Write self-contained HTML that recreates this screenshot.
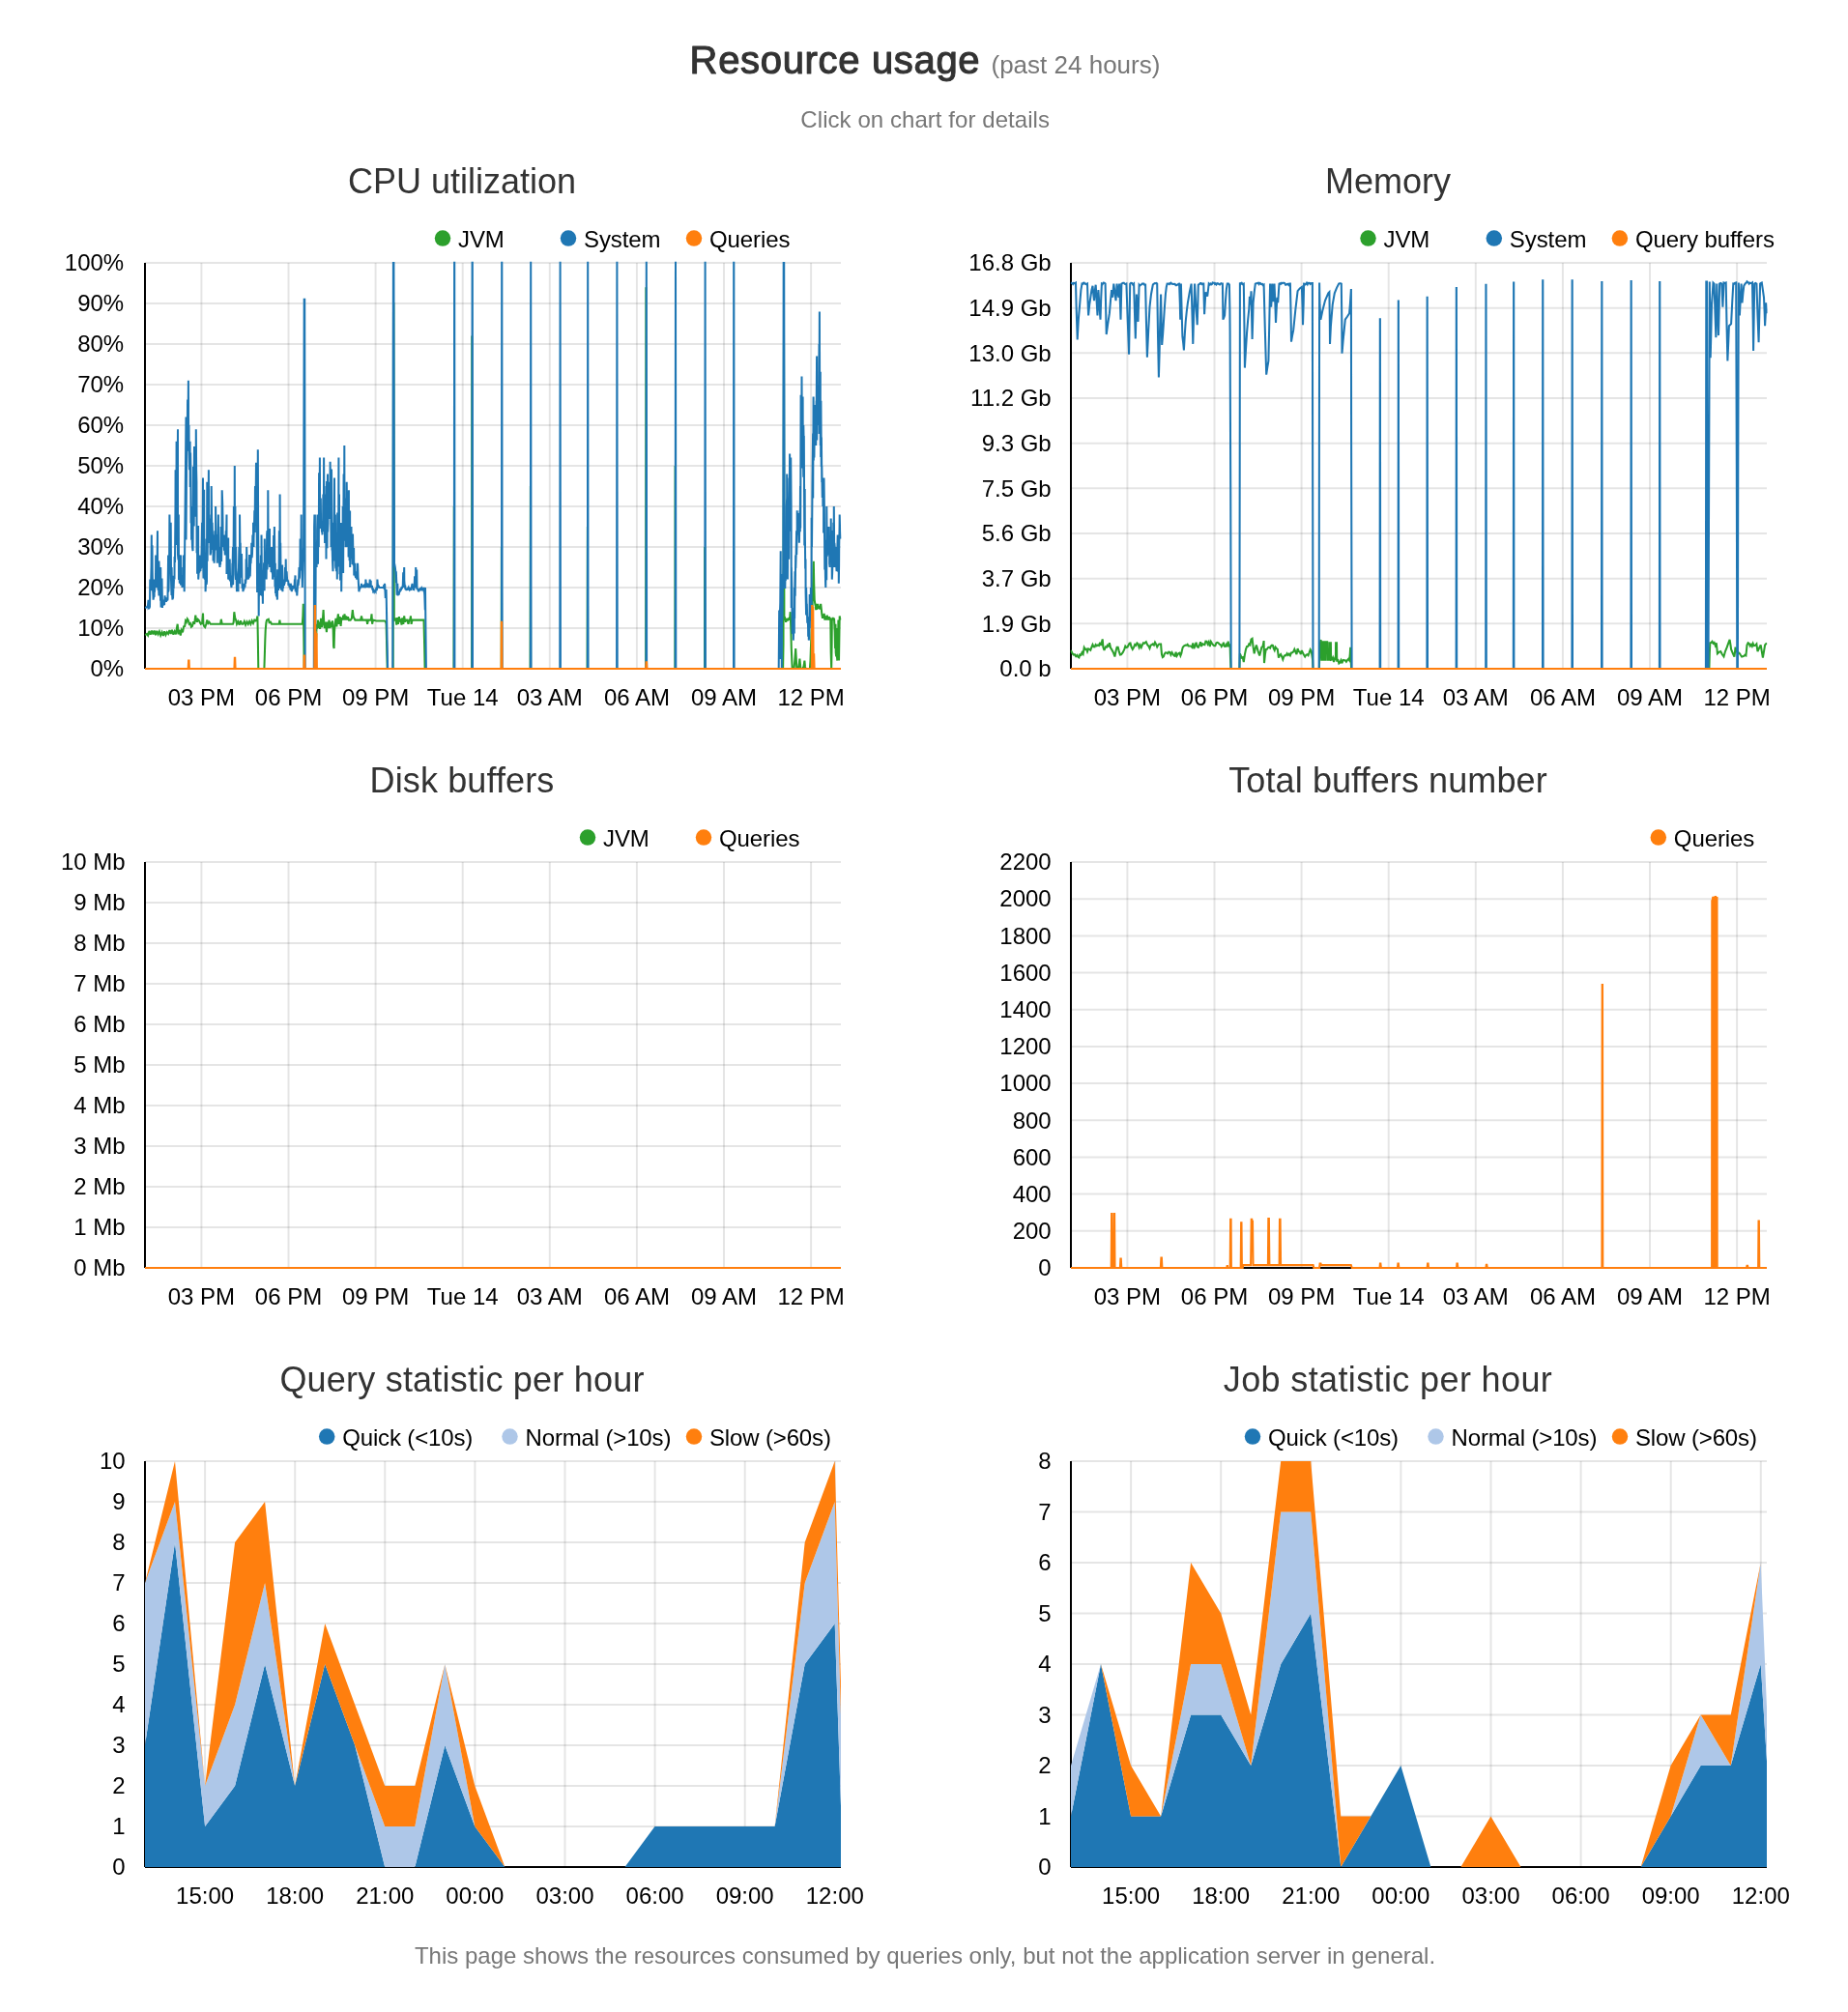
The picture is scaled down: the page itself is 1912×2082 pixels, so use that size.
<!DOCTYPE html>
<html lang="en">
<head>
<meta charset="utf-8">
<title>Resource usage</title>
<style>
html,body{margin:0;padding:0;background:#fff;}
body{width:1912px;height:2082px;overflow:hidden;font-family:"Liberation Sans",sans-serif;}
svg{display:block;will-change:transform;font-family:"Liberation Sans",sans-serif;}
text{font-family:"Liberation Sans",sans-serif;}
.h1{font-size:40px;font-weight:normal;fill:#333;stroke:#333;stroke-width:1.1px;stroke-linejoin:round;letter-spacing:0.67px;}
.sm{font-size:26px;fill:#777;}
.sub{font-size:24px;fill:#777;text-anchor:middle;}
.ft{font-size:24px;}
.ct{font-size:36px;fill:#333;text-anchor:middle;}
.yl{font-size:24px;fill:#000;text-anchor:end;}
.xl{font-size:24px;fill:#000;text-anchor:middle;}
.lg{font-size:24px;fill:#000;}
.grid{stroke:#000;stroke-opacity:0.1;stroke-width:2;fill:none;}
.zero{stroke:#000;stroke-opacity:1;stroke-width:2;fill:none;}
.axis{stroke:#000;stroke-width:2;fill:none;}
.ln path{fill:none;stroke-width:2.05;stroke-linejoin:miter;stroke-miterlimit:3;}
</style>
</head>
<body>
<svg width="1912" height="2082" viewBox="0 0 1912 2082">
<defs>
<clipPath id="k00"><rect x="149.5" y="270.8" width="721" height="421.5"/></clipPath>
<clipPath id="c00"><rect x="149.5" y="270.8" width="721" height="423.5"/></clipPath>
<clipPath id="k01"><rect x="1107.5" y="270.8" width="721" height="421.5"/></clipPath>
<clipPath id="c01"><rect x="1107.5" y="270.8" width="721" height="423.5"/></clipPath>
<clipPath id="k10"><rect x="149.5" y="890.8" width="721" height="421.5"/></clipPath>
<clipPath id="c10"><rect x="149.5" y="890.8" width="721" height="423.5"/></clipPath>
<clipPath id="k11"><rect x="1107.5" y="890.8" width="721" height="421.5"/></clipPath>
<clipPath id="c11"><rect x="1107.5" y="890.8" width="721" height="423.5"/></clipPath>
<clipPath id="c20"><rect x="150" y="1512" width="720" height="420"/></clipPath>
<clipPath id="c21"><rect x="1108" y="1512" width="720" height="420"/></clipPath>
</defs>
<text class="h1" x="713.6" y="76">Resource usage</text>
<text class="sm" x="1025.5" y="76">(past 24 hours)</text>
<text class="sub" x="957.2" y="132" letter-spacing="0.06">Click on chart for details</text>
<text class="sub ft" x="957" y="2031.8">This page shows the resources consumed by queries only, but not the application server in general.</text>
<text class="ct" x="478" y="200">CPU utilization</text>
<path class="grid" d="M150,650H870M150,608H870M150,566H870M150,524H870M150,482H870M150,440H870M150,398H870M150,356H870M150,314H870M150,272H870"/>
<path class="grid" d="M208.4,272V692M298.5,272V692M388.6,272V692M478.7,272V692M568.8,272V692M658.9,272V692M749,272V692M839.1,272V692"/>
<path class="zero" d="M150,692H870"/>
<path class="axis" d="M150,272V692"/>
<text class="yl" x="128.2" y="700.2">0%</text>
<text class="yl" x="128.2" y="658.2">10%</text>
<text class="yl" x="128.2" y="616.2">20%</text>
<text class="yl" x="128.2" y="574.2">30%</text>
<text class="yl" x="128.2" y="532.2">40%</text>
<text class="yl" x="128.2" y="490.2">50%</text>
<text class="yl" x="128.2" y="448.2">60%</text>
<text class="yl" x="128.2" y="406.2">70%</text>
<text class="yl" x="128.2" y="364.2">80%</text>
<text class="yl" x="128.2" y="322.2">90%</text>
<text class="yl" x="128.2" y="280.2">100%</text>
<text class="xl" x="208.4" y="729.8">03 PM</text>
<text class="xl" x="298.5" y="729.8">06 PM</text>
<text class="xl" x="388.6" y="729.8">09 PM</text>
<text class="xl" x="478.7" y="729.8">Tue 14</text>
<text class="xl" x="568.8" y="729.8">03 AM</text>
<text class="xl" x="658.9" y="729.8">06 AM</text>
<text class="xl" x="749" y="729.8">09 AM</text>
<text class="xl" x="839.1" y="729.8">12 PM</text>
<circle cx="458" cy="246.6" r="8.25" fill="#2ca02c"/>
<text class="lg" x="474" y="255.5" letter-spacing="-0.08">JVM</text>
<circle cx="588" cy="246.6" r="8.25" fill="#1f77b4"/>
<text class="lg" x="604" y="255.5" letter-spacing="-0.08">System</text>
<circle cx="718" cy="246.6" r="8.25" fill="#ff7f0e"/>
<text class="lg" x="734" y="255.5" letter-spacing="-0.08">Queries</text>
<g clip-path="url(#k00)" class="ln">
<path stroke="#2ca02c" d="M150.1,657.1L152,655.9L153.1,657.6L154.4,652.9L155.7,656.7L157.1,652.5L158.4,656.3L159.7,652.5L161,657.1L162.3,652.9L163.6,656.3L164.9,653.4L166.2,657.6L167.6,654.2L168.9,658L170.2,653.4L171.5,657.1L172.8,654.2L174.1,655.9L175.4,652.1L176.7,655.9L178,651.7L179.4,656.7L180.7,653.4L182,656.3L182.9,650L183.7,645.8L184.6,656.3L185.7,651.7L186.8,657.6L187.9,652.1L189,654.2L190.1,648.3L191.2,647.9L192,642.4L192.9,643.7L193.8,640.3L194.7,641.6L195.8,645.8L196.9,645L197.9,648.7L199,647.9L200.1,643.3L201.2,645.8L202.3,636.6L203,641.6L203.9,643.7L204.7,640.8L205.6,641.6L206.7,643.7L207.8,645.8L209.1,645L210,634.5L210.4,645.8L211.3,648.3L212.2,649.2L213.3,645.8L214.3,641.6L215.4,645L216.5,643.7L217.8,645.8L219.8,645.8L223.1,645.8L226.4,645.8L228.1,645.8L228.8,640.8L229.7,645.8L231.8,645.8L235.1,645.8L238.4,645.8L241,645.8L241.7,643.7L242.3,633.2L243.2,639.5L244.1,641.6L245,645.8L246.3,643.3L247.6,646.6L248.9,642.4L250.2,645.8L251.5,645.8L252.8,642.9L254.1,646.6L255.5,643.3L256.8,645.8L258.1,642.9L259.4,645.8L260.7,642.4L262,645L263.3,641.6L264.6,642.4L265.7,640.8L266.4,637.4L266.8,658.4L267.3,692L273.4,692L273.8,679.4L274.3,662.6L274.7,652.1L275.4,644.5L276,641.6L277.8,640.8L278.6,644.1L280,643.7L281,645.8L284.3,645.8L287.6,645.8L288.7,645.8L289.4,641.6L290,645.8L293.1,645.8L297.4,645.8L301.8,645.8L306.2,645.8L310.6,645.8L312.8,645.8L313.4,637.4L313.8,624.8L314.3,658.4L314.7,692L326.3,692L327,666.8L327.6,645.8L328.3,650.8L328.9,641.6L329.6,650L330.2,643.7L331.1,650.8L332,639.9L332.9,649.2L333.7,643.7L334.6,631.1L335.3,645.8L335.9,650L336.8,643.7L337.9,654.2L338.8,643.7L339.7,650L340.5,641.6L341.4,650L342.3,643.7L343.1,649.2L344,642.4L344.7,652.1L345.1,668.9L345.6,671L346,654.2L346.6,645.8L347.5,639.9L348.4,648.3L349.3,639.5L349.9,635.3L350.8,645.8L351.7,638.2L352.6,647.9L353.4,639.1L354.3,641.6L355.2,636.6L356.1,641.6L356.5,635.3L357.4,641.6L358.2,637.4L359.1,641.6L360,638.2L360.9,641.6L362.6,641.6L363.9,639.9L364.8,631.1L365.5,637.4L366.3,639.5L367.4,641.6L369.6,641.6L371.8,641.6L373.1,641.6L374,637.4L374.9,641.6L377.3,641.6L379.4,641.6L380.1,645.8L381,641.6L382.7,641.6L383.8,641.6L384.5,635.3L385.1,645.8L386,641.6L389.3,642.4L393.7,642.4L398,642.4L399.1,643.7L399.6,645.8L400.2,671L400.7,692L406.7,692L407,314L407.3,314L407.8,641.6L408.3,641.6L409.4,639.5L410.3,646.6L411.2,639.1L412,645.8L412.9,638.2L413.8,642.4L414.7,641.6L415.5,646.6L416.4,639.5L417.3,645.8L418.2,637.4L419,643.7L419.9,641.6L421.2,641.6L422.5,645.8L423.4,641.6L424.3,641.6L424.9,637.4L425.6,645.8L426.5,641.6L428.7,641.6L431.9,641.6L435.2,641.6L438.5,641.6L439.1,666.8L439.6,692L469.5,692L469.8,524L470,692L488.1,692L488.3,347.6L488.6,692L518.7,692L518.9,566L519.2,692L548.6,692L548.9,503L549.1,692L607.6,692L607.9,545L608.1,692L668.2,692L668.4,297.2L668.7,692L698.4,692L698.6,482L698.9,692L729,692L729.2,566L729.5,692L810.1,692L810.5,666.8L811,347.6L811.4,641.6L812.3,640.3L813.1,643.7L814,639.9L814.9,642.4L815.8,639.5L816.6,641.6L817.3,637.4L817.7,633.2L818.4,654.2L818.8,671L819.3,683.6L819.7,692L821.5,692L822.3,683.6L823.2,671L823.9,683.6L824.3,692L825.8,692L826.7,687.8L827.4,681.5L828,687.8L828.4,692L830.2,692L831.5,689.9L832.4,683.6L833,689.9L833.5,692L837.9,692L838.5,683.6L838.9,671L839.8,650L840.5,629L841.1,608L841.8,580.7L842.2,603.8L842.7,620.6L843.3,624.8L843.8,626.9L844.2,631.1L844.6,624.8L845.1,630.7L845.5,629L846.2,624.8L846.8,629.8L847.7,626.9L848.3,630.7L849.2,624.8L849.9,631.1L850.3,635.3L851,639.9L851.6,635.7L852.1,639.5L852.7,634.9L853.4,641.6L854.3,637.4L855.1,641.6L855.8,636.6L856.4,641.6L857.3,638.2L858,641.6L858.6,639.5L859.3,640.3L859.7,675.2L860.2,692L860.6,666.8L860.8,641.6L861.7,639.1L862.3,641.6L863,639.5L863.7,654.2L864.1,671L864.5,645.8L864.7,675.2L865.2,679.4L865.6,650L865.8,677.3L866.3,683.6L866.7,654.2L866.9,679.4L867.4,641.6L867.8,675.2L868,683.6L868.5,650L868.7,637.4L869.1,639.5L869.6,641.6"/>
<path stroke="#1f77b4" d="M150.1,629L152.5,627.9L153,626.3L153.5,620.8L153.6,629L154.1,628.5L154.5,628.9L155,627.8L155.3,599.6L155.6,608L156,610.6L156.6,585.6L156.8,553.4L157,611.3L157.5,564.3L157.7,591.2L158,607.2L158.5,617.9L158.6,620.6L159.1,616.9L159.6,617.7L159.7,599.6L160,612.8L160.5,599.8L161,601.5L161.2,574.4L161.5,575.8L161.9,608L162.1,594.3L162.5,588.7L163,549.2L163.1,603.2L163.6,610.6L163.8,591.2L164.1,607.4L164.5,616.4L164.5,580.6L165,606.2L165.4,603.8L165.6,610.2L166.1,621.6L166.2,587L166.6,628.4L167.1,621.3L167.1,616.4L167.5,598.6L168,629L168.1,623.2L168.6,623.3L169.1,626L169.3,620.6L169.6,625.4L170.1,625.2L170.6,616.4L170.7,619.7L171,621.2L171.6,620.4L171.9,622.7L172.1,622.2L172.5,620.5L172.8,620.6L173.1,621.5L173.5,620.4L174.1,574.4L174.1,612.6L174.5,610.7L175.1,585.6L175.4,532.4L175.6,546.2L176,580.7L176.6,593L176.7,540.8L177,598.9L177.5,615.9L177.6,587L178.1,614.9L178.5,620.6L178.5,595.7L179,619.5L179.4,608L179.6,609.3L180.1,596.6L180.5,599.6L180.6,576L181,582L181.5,524L181.6,486.3L182.1,563.9L182.5,538.7L182.6,456.8L183.1,521.6L183.3,482L183.5,546.8L184,444.2L184,573.6L184.5,579.3L184.8,532.4L185,600.1L185.5,597.7L185.9,603.8L186.1,599.5L186.5,578.7L187,574.4L187,605.6L187.5,602.4L187.7,595.4L188.2,600.8L188.5,608L188.6,599.5L189,607L189.2,587L189.5,603.5L189.9,574.4L190,591.3L190.6,604.6L190.7,612.2L191.6,524L192.5,431.6L192.5,558.5L193,487.5L193.4,448.4L193.7,466.8L194,423.2L194.1,413.6L194.5,462.4L194.9,393.8L195.1,464L195.5,440L195.6,463.9L196,486.3L196.2,473.6L196.6,456.8L196.7,504L197.1,468.4L197.3,482L197.6,541.2L197.9,524L198.1,558.7L198.5,557.7L198.6,553.4L199,565.9L199.5,570.2L199.6,560.4L200,482.7L200.4,524L200.7,544.6L201,461.9L201.2,469.4L201.5,534.8L201.9,482L202,508.1L202.6,529.9L202.8,444.2L203.1,485.2L203.4,498.8L203.6,572.2L204.1,545L204.1,593.8L204.6,566.8L204.7,582.8L205.1,543.9L205.2,599.6L205.6,593.2L206,582.8L206.1,592.4L206.5,590.8L206.7,574.4L207.1,587.7L207.4,591.2L207.5,581.7L208,588.4L208.2,587L208.6,570L209.1,540.8L209.1,587.4L209.6,566.5L210,494.6L210.1,576.3L210.5,598.5L210.6,545L211.1,506.7L211.3,582.8L211.6,596.9L211.9,599.6L212.1,595.4L212.5,592.2L212.6,612.2L213,602.6L213.5,557.6L213.6,605L214,601.5L214.3,498.8L214.6,580.7L215,519.8L215.1,543.4L215.6,542L215.9,486.2L216.1,555.6L216.6,562L216.8,536.6L217,548L217.5,563.1L217.6,574.4L218.1,571.3L218.3,532.4L218.6,568.9L218.7,503L219.1,539.2L219.6,560.2L219.6,540.8L220.1,558.6L220.5,566L220.6,580.6L221,578.8L221.1,553.4L221.6,571.4L221.6,582.8L222.1,562.2L222.4,549.2L222.5,569.4L223.1,558.8L223.1,524L223.6,568.3L224,557.6L224.1,562.8L224.6,568.7L224.8,582.8L225.1,554.8L225.5,553.4L225.5,565.7L225.9,532.4L226.1,567.2L226.5,573.8L226.8,566L227,582.5L227.5,587L227.5,582.6L228.1,582.9L228.6,545L228.6,569.3L229.1,581L229.5,555.5L229.7,507.2L230.2,521.3L230.5,540.8L230.6,560.9L231.1,553.6L231.4,566L231.6,558.9L232,569.8L232.3,553.4L232.5,567.3L232.9,574.4L233,569L233.5,564.6L233.8,549.2L234,563.3L234.5,532.4L234.5,594L235.1,569.5L235.3,570.2L235.7,593.4L236.2,556.5L236.2,599.6L236.5,593.3L237.1,582.8L237.1,594.2L237.5,600.2L237.7,578.6L238.1,600.6L238.5,600.8L238.6,595.4L239.1,605.3L239.5,608L239.6,600.3L240,605.4L240.4,582.8L240.5,590.8L241,566L241.1,605.2L241.6,576.1L241.9,524L242.1,577L242.6,563.3L242.8,482L243,568.6L243.4,524L243.6,594.5L244,599.8L244.1,566L244.5,596.2L244.5,591.2L245,612.2L245,609.4L245.5,610.2L245.8,599.6L246,604.1L246.5,612.2L246.5,596.2L247,587.3L247.4,566L247.5,602.3L248,602.6L248,532.4L248.6,581.7L248.7,561.8L249.1,597.7L249.3,578.6L249.5,589.8L250,573.1L250.4,599.6L250.6,606.9L251.1,606.5L251.5,612.2L251.7,608.6L252.1,610.2L252.6,608.3L252.6,603.8L253,605.5L253.5,607.6L253.7,599.6L254.1,604L254.5,600L254.6,578.6L255.1,599.8L255.2,566L255.6,592.2L256,595.6L256.1,587L256.6,596.4L257,599.6L257,597.7L257.7,597.3L258.1,574L258.1,582.8L258.7,596.5L259,587.1L259.2,578.6L259.5,583.2L260.1,572.8L260.3,561.8L260.6,577.2L261,572.7L261.4,553.4L261.5,564.5L262,561.5L262,540.8L262.5,566L262.5,557.3L263.1,540.1L263.3,528.2L263.6,551.1L264,503L264.1,530.7L264.5,536.1L264.6,524L265,478.8L265.3,532.4L265.6,519.9L266.1,612.9L266.2,494.6L266.6,592.9L266.8,465.2L267.1,540.9L267.3,566L267.6,620.9L267.7,637.4L268.1,582.7L268.4,616.4L268.6,604.3L269,608L269.1,598.8L269.6,613.8L269.9,574.4L270,609.6L270.5,615.8L270.5,553.4L271.1,616.8L271.2,599.6L271.6,609L271.9,624.8L272.1,590.5L272.5,611.4L273,587L273.1,582.2L273.6,611.2L273.8,557.6L274,583.5L274.5,592.8L274.7,582.8L275,598.7L275.5,584.8L275.6,599.6L276.2,552.8L276.5,549.2L276.5,589.4L277.1,578L277.3,507.2L277.6,573.5L278,556.1L278.2,553.4L278.5,583.8L279,547.1L279.1,587L279.5,580.6L280,586.2L280.2,570.2L280.6,592.1L281,582.1L281,566L281.6,593.3L281.7,587L282,586.5L282.1,599.6L282.5,587.3L283,570.2L283.1,554.1L283.6,597.1L283.9,545L284.2,569.5L284.5,607.2L284.8,582.8L285.1,614.1L285.4,608L285.6,615L286.1,617.2L286.3,616.4L286.5,612.7L286.9,620.6L287.1,589.3L287.6,601.3L287.6,608L288.1,610.9L288.3,599.6L288.5,605.6L288.9,549.2L289.1,608.9L289.5,592.1L289.6,511.4L290,603.3L290.2,561.8L290.6,602.2L290.9,599.6L291.1,610.8L291.5,597.8L291.8,608L292.1,584.6L292.4,612.2L292.5,608.4L293,608L293.3,603.8L293.6,604.8L294,606L294.2,599.6L294.5,604.3L295,587L295.1,602.2L295.6,598.7L295.7,578.6L296,598.6L296.5,600.2L296.6,591.2L297.2,601.6L297.4,599.6L297.6,601.8L298.1,600.5L298.5,605.9L298.6,605L299,603.7L299.5,607L299.6,608L300.1,606.7L300.5,610.4L300.7,603.8L301,605.3L301.5,610.1L301.8,612.2L302.1,610.1L302.5,609.7L302.9,605.9L303,607L303.5,609.1L304,607.4L304,608L304.6,606.9L304.9,599.6L305,605.5L305.5,595.4L305.7,610L306,609.8L306.4,608L306.5,613.3L307,611.5L307.3,616.4L307.5,612.9L308.1,603.5L308.4,599.6L308.5,606.2L309.1,601.1L309.5,587L309.5,599L310,597.1L310.5,578L310.6,557.6L311.1,576.1L311.5,583L311.7,532.4L312,590.4L312.3,574.4L312.5,590.1L312.8,608L313.4,582.8L314.1,566L314.7,309.8L315.2,309.8L315.7,692L324.8,692L325.1,545.4L325.4,532.4L325.5,657.2L325.9,532.4L326.1,691.7L326.6,603.6L326.7,561.8L327,564.9L327.6,587L327.6,580.1L328.1,557.6L328.1,548.9L328.5,532.4L328.5,572.7L329,583.7L329.2,549.2L329.6,549.3L329.8,566L330.1,489.2L330.5,515.6L330.6,546.9L330.9,473.6L331.1,540.4L331.6,546.2L331.8,515.6L332.1,546.7L332.4,545L332.5,540.4L333,550.6L333.1,540.8L333.5,553.4L333.6,539.4L334,550.3L334.4,511.4L334.6,541.6L335,537.6L335.1,473.6L335.5,549.6L335.7,503L336.1,562L336.2,524L336.6,549.6L336.8,553.4L337.1,511.5L337.5,578.6L337.5,568.8L338.1,498.1L338.3,532.4L338.5,567.3L339,490.4L339.1,550.4L339.5,541.4L339.7,511.4L340.1,524L340.1,502.2L340.5,520.7L341,498.8L341,521.5L341.5,536.9L341.6,477.8L342.1,507.7L342.3,515.6L342.5,565.9L342.9,545L343,485.4L343.5,568.7L343.8,570.2L344.1,581.5L344.5,591.2L344.6,579.1L345,560.7L345.3,540.8L345.5,580.6L346,494.6L346.1,543.3L346.5,573.3L346.9,532.4L347.2,585.8L347.5,588.3L347.7,566L348,591.2L348.4,587L348.6,571.3L348.8,599.6L349.2,530.6L349.5,566.8L349.7,532.4L350.1,586.5L350.4,473.6L350.5,564.1L351,511.4L351,536L351.5,594.2L351.7,545L352,600.6L352.5,599.1L352.6,582.8L353,541L353.2,612.2L353.5,582.9L354.1,566L354.1,587.9L354.5,577.8L354.7,524L355.1,593.1L355.6,490.4L355.6,558.2L356,559.4L356.3,461L356.5,543.2L356.9,515.6L357.1,545.4L357.5,546.3L357.6,566L358,564.1L358.2,528.2L358.5,551L358.7,498.8L359.1,530.1L359.3,536.6L359.5,548.1L359.8,566L360.1,510L360.4,532.4L360.6,576.4L360.9,507.2L361,572.8L361.5,549.2L361.6,580.3L362.1,528.6L362.2,587L362.5,566.1L362.8,561.8L363.1,577.9L363.5,545L363.6,572.4L364,570.2L364.1,561.8L364.6,584L364.8,553.4L365,552.6L365.6,585.2L365.7,578.6L366.1,567.1L366.3,595.4L366.5,587.7L367,587L367,591.4L367.4,582.8L367.5,595.7L368.1,597.7L368.3,591.2L368.5,597.6L369.1,598.5L369.2,599.6L369.7,597.3L370,582.8L370.2,586.2L370.5,597.5L370.7,599.6L371.4,612.2L372.2,608L372.7,607.7L372.9,608L373.2,607.4L373.7,607.2L374,603.8L374.3,607.2L374.8,605.5L375.1,608L375.2,607.2L375.7,606.3L376.2,605.9L376.2,607.7L376.7,605.3L377.2,607.5L377.3,608L377.8,606.8L378.2,606.9L378.4,599.6L378.8,604.4L379.2,606.1L379.4,608L379.8,603.3L380.2,606.3L380.5,603.8L380.8,606L381.3,606.4L381.6,608L381.7,606.9L382.2,607L382.7,599.6L382.7,599.8L383.2,605.5L383.7,600.7L383.8,608L384.3,607.1L384.7,606.4L384.9,605.9L385.3,609.9L385.7,610.3L386,610.1L386.2,612L386.8,611.4L387.1,612.2L387.2,611.9L387.7,612.2L388.2,611.7L388.6,612.2L388.7,610.2L389.2,610L389.5,608L389.7,611L390.2,608.5L390.4,599.6L390.7,603.6L391.3,607.7L391.5,608L391.7,605.7L392.3,607.9L393.2,608L395,608L396.2,607.7L396.7,607.7L396.9,608L397.3,605.1L397.7,607.7L398,603.8L398.2,605.7L398.8,618.9L399.6,610.1L401.1,692L406.3,692L406.9,272L407.4,272L408,582.8L408.8,587L409.3,591.6L409.8,603L409.8,591.2L410.2,601.2L410.7,615.6L410.9,608L411.3,603.8L411.6,616.4L411.8,615.5L412.2,614.3L412.5,612.2L412.7,615.6L413.3,611.9L413.3,612.2L413.7,612.1L414.3,609.3L414.4,610.1L414.7,611.3L415.3,608.1L415.5,608L415.6,609.3L416.2,608L416.8,605.5L417.2,592.2L417.3,608L417.7,604.2L418.2,587L418.3,600.8L418.7,605.7L419,608L419.2,605.5L419.5,610.1L419.7,608.9L420.2,610L420.8,609.9L421,610.1L421.2,610L421.6,609.7L422.2,608.5L422.5,608L422.7,609.3L423.2,608.9L423.7,609.9L424.3,609.3L424.3,610.1L424.7,609.7L425.3,609.9L425.4,608L425.7,608.7L426.3,605.5L426.5,603.8L426.7,608.5L427.2,607.5L427.3,608L427.7,609.9L428.2,610.1L428.2,609.7L428.6,608.3L429.1,596.2L429.3,605.9L429.8,604.5L430.1,598.3L430.2,587L430.7,607.6L431.1,608L431.2,589.4L431.5,610.1L431.8,609.3L432.3,609.6L432.8,611.7L433,612.2L433.3,610.9L433.7,611.1L434.1,610.1L434.3,608.8L434.7,610.8L435.2,608.5L435.2,608L435.7,609.4L436.2,608.4L436.8,609.7L437,610.1L437.2,609.5L437.7,609.6L438.2,609.7L438.5,608L438.8,609L439.3,615.8L439.8,631.3L440,608L440.2,629.5L440.5,658.4L440.9,692L469.8,692L470.1,268L470.2,268L470.4,692L488.4,692L488.6,268L488.8,268L489,692L519,692L519.2,268L519.3,268L519.6,692L548.9,692L549.2,268L549.2,268L549.5,692L579.3,692L579.6,268L579.6,268L579.9,692L607.9,692L608.2,268L608.2,268L608.5,692L638.1,692L638.4,268L638.4,268L638.7,692L668.5,692L668.8,268L668.8,268L669.1,692L698.7,692L699,268L699,268L699.3,692L729.3,692L729.6,268L729.6,268L729.9,692L759,692L759.2,268L759.3,268L759.6,692L805.7,692L806.2,631.5L806.6,641.6L806.7,643.7L807.3,623.6L807.7,570.2L807.8,682L808.2,629.3L808.3,641.6L808.7,662.7L808.8,692L809.2,594.1L809.4,641.6L810.3,587L810.7,272L811.2,272L811.7,608L812.3,608L812.7,582.8L812.8,601L813.1,566L813.1,574L813.6,566L813.8,524L814.2,514.9L814.2,490.4L814.7,549.2L814.8,565.5L814.9,599.6L815.2,540.5L815.5,557.6L815.6,572.5L816,524L816.1,578.7L816.6,494.6L816.7,534.5L817.1,469.4L817.3,499.8L817.7,549.7L817.7,498.8L818.1,536.6L818.2,473.6L818.6,524L818.7,629L818.8,587L819.3,608L819.7,655.5L819.7,629L820.2,656.2L820.4,645.8L820.6,640.8L820.8,662.6L821.2,649.9L821.5,633.2L821.8,655.6L821.9,608L822.1,639.9L822.5,591.2L822.7,616.7L823.2,574.4L823.3,587.9L823.7,572.3L824.1,549.2L824.2,574.1L824.7,546.8L824.7,528.2L825.2,547.6L825.4,545L825.8,531.1L825.8,553.4L826.3,550.9L826.5,540.8L826.7,551.4L826.9,561.8L827.2,545.3L827.6,528.2L827.8,550.3L828,503L828.2,546.6L828.6,408.7L828.9,440L829.2,484.4L829.5,389.6L829.7,433.1L830.1,428.4L830.2,423.2L830.6,410.6L830.7,449.3L831.3,493.7L831.3,440L831.7,461L831.8,451L832.3,564.5L832.4,507.2L832.7,505.9L832.8,545L833.2,588.5L833.5,578.6L833.6,613.2L834.1,636.4L834.1,608L834.8,635L834.8,624.8L835.2,641.6L835.3,644.7L835.7,638.2L836.1,650L836.2,658.7L836.7,642.7L836.8,662.6L837.2,659L837.4,645.8L837.7,615.1L837.9,629L838.1,642.6L838.5,616.4L838.7,631.7L838.9,608L839.3,613.4L839.6,650L839.7,535.7L840,566L840.5,503L841.1,448.4L841.2,515.5L841.6,410.6L841.8,476.6L842,448.4L842.2,454L842.4,473.6L842.8,439.6L842.9,440L843.3,455.8L843.3,419L843.8,448.4L843.8,428.8L844.2,461L844.3,451.3L844.6,414.8L844.7,426.7L845.1,368.6L845.2,455.6L845.5,414.8L845.8,425.5L845.9,440L846.1,424.5L846.4,414.8L846.8,423.3L846.8,398L847.1,417.3L847.5,356L847.6,449.1L847.9,322.4L848.2,430.3L848.3,398L848.8,384.7L848.8,461L849.2,431.6L849.2,473L849.4,414.8L849.8,482.9L849.9,452.6L850.3,499.1L850.3,482L850.8,515.1L851,507.2L851.3,506.8L851.4,524L851.6,515.7L852.1,507.2L852.1,551.5L852.5,494.6L852.8,520.4L852.9,532.4L853.3,589.5L853.4,566L853.7,558.8L853.8,587L854.1,604.1L854.3,608L854.6,559.8L854.9,561.8L855.2,600.2L855.3,524L855.7,575.9L856,553.4L856.3,565.3L856.4,574.4L856.7,561.4L857.1,557.6L857.2,566.3L857.5,545L857.7,558.5L858.2,570.2L858.2,583.1L858.6,587L858.8,570.1L859.2,579.4L859.3,557.6L859.7,571.3L859.7,536.6L860.1,581.4L860.4,574.4L860.6,551.7L860.8,599.6L861.1,593.5L861.5,578.6L861.8,549.1L861.9,566L862.2,586.9L862.3,540.8L862.8,559.9L862.8,524L863.2,575.1L863.4,561.8L863.8,567.1L863.9,587L864.3,580.9L864.3,574.4L864.7,585.3L864.7,566L865.2,582.8L865.2,584.7L865.6,591.2L865.7,587.3L866.3,587.8L866.3,570.2L866.7,553.4L866.8,572.6L867.2,591.8L867.4,582.8L867.7,582.2L867.8,603.8L868.1,584.2L868.2,566L868.6,543.9L868.7,532.4L869.1,549.2L869.6,557.6"/>
</g>
<g clip-path="url(#c00)" class="ln">
<path stroke="#ff7f0e" d="M150,692L194.7,692L195.1,683.6L195.6,683.6L195.9,692L242.4,692L242.8,680.7L243.2,680.7L243.6,692L314.3,692L314.7,678.6L315.2,678.6L315.5,692L325.4,692L325.7,626.9L326.1,626.9L326.4,692L326.1,692L326.4,654.2L326.7,654.2L326.9,692L326.9,692L327.2,656.3L327.6,656.3L327.9,692L518.6,692L518.8,643.7L519.2,643.7L519.5,692L668.2,692L668.6,685.3L669.1,685.3L669.4,692L839.8,692L840.1,626.9L840.4,626.9L840.7,692L840.7,692L841,629L841.3,629L841.6,692L841.4,692L841.8,677.3L842.2,677.3L842.6,692L870,692"/>
<path stroke="#ff7f0e" stroke-width="2.4" d="M150,692H870"/>
</g>
<text class="ct" x="1436" y="200">Memory</text>
<path class="grid" d="M1108,645.3H1828M1108,598.7H1828M1108,552H1828M1108,505.3H1828M1108,458.7H1828M1108,412H1828M1108,365.3H1828M1108,318.7H1828M1108,272H1828"/>
<path class="grid" d="M1166.4,272V692M1256.5,272V692M1346.6,272V692M1436.7,272V692M1526.8,272V692M1616.9,272V692M1707,272V692M1797.1,272V692"/>
<path class="zero" d="M1108,692H1828"/>
<path class="axis" d="M1108,272V692"/>
<text class="yl" x="1087.7" y="700.2">0.0 b</text>
<text class="yl" x="1087.7" y="653.5">1.9 Gb</text>
<text class="yl" x="1087.7" y="606.9">3.7 Gb</text>
<text class="yl" x="1087.7" y="560.2">5.6 Gb</text>
<text class="yl" x="1087.7" y="513.5">7.5 Gb</text>
<text class="yl" x="1087.7" y="466.9">9.3 Gb</text>
<text class="yl" x="1087.7" y="420.2">11.2 Gb</text>
<text class="yl" x="1087.7" y="373.5">13.0 Gb</text>
<text class="yl" x="1087.7" y="326.9">14.9 Gb</text>
<text class="yl" x="1087.7" y="280.2">16.8 Gb</text>
<text class="xl" x="1166.4" y="729.8">03 PM</text>
<text class="xl" x="1256.5" y="729.8">06 PM</text>
<text class="xl" x="1346.6" y="729.8">09 PM</text>
<text class="xl" x="1436.7" y="729.8">Tue 14</text>
<text class="xl" x="1526.8" y="729.8">03 AM</text>
<text class="xl" x="1616.9" y="729.8">06 AM</text>
<text class="xl" x="1707" y="729.8">09 AM</text>
<text class="xl" x="1797.1" y="729.8">12 PM</text>
<circle cx="1415.5" cy="246.6" r="8.25" fill="#2ca02c"/>
<text class="lg" x="1431.5" y="255.5" letter-spacing="-0.08">JVM</text>
<circle cx="1545.8" cy="246.6" r="8.25" fill="#1f77b4"/>
<text class="lg" x="1561.8" y="255.5" letter-spacing="-0.08">System</text>
<circle cx="1675.9" cy="246.6" r="8.25" fill="#ff7f0e"/>
<text class="lg" x="1691.9" y="255.5" letter-spacing="-0.08">Query buffers</text>
<g clip-path="url(#k01)" class="ln">
<path stroke="#2ca02c" d="M1107.9,673L1109.7,676.3L1110.8,677.6L1111.9,677.3L1113.2,679.2L1114.5,678L1115.4,679.7L1116.4,680.4L1117.3,677.3L1118.4,677.8L1119.5,675.2L1120.6,676.8L1121.7,670L1122.8,671.9L1123.9,671.5L1125,674.4L1126.1,671.4L1127.2,671.8L1128.3,672.8L1129.4,669.7L1130.5,667.1L1131.5,669.2L1132.6,669.3L1133.7,667.1L1134.8,668.4L1135.9,667.5L1137,668.1L1138.1,664.7L1139.2,667.9L1140.3,663.1L1140.7,661.4L1141.4,669.7L1142.5,673L1143.8,669.5L1145.1,669.7L1146.1,666.8L1147,669.4L1147.9,665.3L1149,670.3L1150.1,671.9L1151.9,675.2L1153.4,679.5L1154.7,673L1155.6,669.7L1156.7,669.7L1157.8,674.1L1158.9,677.6L1160,677.3L1161.7,675.2L1163.3,671.9L1164.3,668.7L1165.4,670.1L1166.5,669.6L1167.6,667.5L1168.6,665.7L1169.5,665.5L1170.5,669.3L1171.8,671.9L1173.1,669.7L1174.2,667L1175.3,667.9L1176.4,665.4L1177.5,666.4L1178.6,670L1179.7,667.5L1180.8,669.9L1181.8,667.5L1182.9,665.3L1184,665.8L1185.8,664.2L1187.1,667.1L1188.4,668.6L1189.5,671L1190.6,667.5L1191.7,667.2L1192.8,666.4L1193.9,667.6L1195,664.7L1196.1,666.6L1197.2,669.4L1198.2,667.7L1199.3,666.4L1201.1,666.4L1201.5,671.9L1202,677.3L1202.9,680.1L1203.9,679.4L1204.8,676.7L1205.9,675.3L1207,675.5L1208.1,676.3L1209.2,674.6L1210.3,674.9L1211.4,677.6L1212.5,675.1L1213.6,676.9L1214.6,678.4L1215.6,678.8L1216.6,674.7L1217.6,678.8L1218.6,677.3L1219.5,676L1220.4,675.6L1221.4,678.6L1222.3,676.3L1223.2,671.9L1223.8,669.7L1225.1,668.4L1226.7,667.5L1227.6,667.7L1228.6,666.9L1229.5,668.4L1230.8,668.4L1232.1,668.6L1233.2,669.7L1234.3,665.4L1235.4,671.2L1236.5,667.9L1237.6,664.8L1238.7,669.3L1239.8,669.8L1240.9,667.5L1242,664.3L1243.1,669L1244.2,666.2L1245.3,666.9L1246.4,667.2L1247.4,663.5L1248.5,663.6L1249.6,666.4L1250.7,664.2L1251.8,669L1252.9,664L1254,665.8L1255.1,667.3L1256.2,668.3L1257.3,668.3L1258.4,665.3L1259.5,664.8L1260.6,665.3L1261.7,666.6L1262.8,667.1L1263.8,669L1264.9,667.5L1265.9,664.8L1266.9,668.8L1267.9,668.9L1268.9,666.9L1269.8,669L1270.7,663.7L1271.7,669.4L1272.6,666.4L1273,680.6L1273.5,692L1282.4,692L1282.9,676.3L1284.6,680.6L1285.7,680.2L1286.8,685L1287.9,677.3L1289,671.9L1290.1,669L1291.2,668.9L1292.3,666.4L1293.4,667.3L1294.5,661.7L1295.6,660.9L1296.6,669.7L1297.7,676.3L1298.8,670.8L1299.9,667.5L1301.7,674.1L1303.2,678.4L1305.4,669.7L1306.5,669.1L1307.6,663.1L1307.8,676.3L1308,686.1L1308.9,677.3L1309.8,671.9L1310.9,671.8L1312,670L1313,669.7L1314.1,670.6L1315.1,668.4L1316,667.6L1316.9,667.9L1317.8,671.2L1318.7,673L1319.6,669.7L1320.7,671L1321.8,671.9L1322.5,677.3L1322.9,680.6L1324,678.1L1325.1,677L1326.2,679.5L1327.3,682.4L1328.4,679.2L1329.4,678.1L1330.5,678.4L1331.6,676.2L1332.7,677.9L1333.8,676.7L1334.9,678.3L1336,675.4L1337.1,675.2L1338.2,674.4L1339.3,671.9L1340.4,674.5L1341.5,677L1342.6,671.2L1343.7,674.1L1344.8,674.5L1345.8,677.1L1346.9,673L1348,675.8L1349.1,677.7L1350.2,679.5L1351.3,677.8L1352.4,677.3L1353.5,678.2L1354.6,675.4L1355.7,672.2L1356.8,674.1L1358.1,682.8L1358.5,692L1364.9,692L1365.3,676.3L1366,665.3L1366.6,662L1367.1,676.3L1367.3,682.8L1368.2,682.8L1368.4,664.2L1369.9,664.2L1370.1,682.8L1371.2,682.8L1371.4,664.2L1373.2,664.2L1373.4,682.8L1375.2,682.8L1375.4,665.3L1376.9,665.3L1377.1,682.8L1378.1,682.4L1379,680.6L1380,685L1381,681.5L1381.9,682.8L1382.1,665.3L1383,665.3L1383.2,683.3L1384.3,683L1385.3,686.4L1386.4,685.5L1387.4,683.3L1388.5,686.3L1389.6,683L1390.7,683.2L1391.8,683.3L1392.9,684.7L1394,683.1L1395.1,681.9L1396.1,683.3L1396.8,676.3L1397.2,669.7L1397.7,682.8L1398.1,692L1764.9,692L1768.4,692L1768.8,676.3L1769.3,665.3L1770.4,665L1771.5,663.8L1772.5,665.8L1773.6,665L1774.7,668L1775.8,665.3L1776.5,671.9L1776.9,676.3L1778.4,674.9L1780.2,674.1L1781.9,677.3L1783.5,679.5L1785,674.1L1786.8,669.7L1788.3,665.3L1789.6,662L1790.5,667.5L1791.1,671.9L1792.9,676.3L1794.4,679.5L1795.1,674.1L1795.5,669.7L1796.6,674.1L1797.7,673.6L1798.8,675.6L1799.9,676.3L1801,678L1802.1,679.5L1803.2,679.2L1804.3,678.9L1805.3,677.8L1806.4,678.4L1807.1,671.9L1807.5,667.5L1808.6,665.2L1809.7,666L1810.8,668.5L1811.9,666.9L1812.8,668.7L1813.7,666L1814.6,668.1L1815.6,668L1816.5,667.5L1817.4,666.4L1818,670.8L1818.5,674.1L1820,670.8L1821.7,667.5L1822.8,674.1L1823.9,680.6L1825,674.1L1826.1,667.5L1827,666.4L1827.9,665.3"/>
<path stroke="#1f77b4" d="M1107.9,292.5L1108.6,292.9L1109.4,293.2L1110.1,294L1110.8,292.9L1111.5,293.1L1112.2,293L1113,292.5L1113.6,317.6L1114.7,351.5L1115.8,330.7L1117.3,313.3L1118.4,300.1L1119.5,293.6L1120.3,293.8L1121,292.8L1121.7,292.7L1122.5,293.6L1123.2,293.6L1124.1,294.2L1125,293.6L1125.6,313.3L1126.1,326.4L1127.2,315.4L1128.3,307.8L1129.4,300.1L1130.5,295.8L1131.3,304.5L1132,311.1L1132.9,300.1L1133.7,294.7L1134.6,311.1L1135.5,326.4L1135.9,311.1L1136.4,300.1L1137.5,317.6L1138.5,330.7L1139.2,308.9L1139.9,293.6L1140.7,294.1L1141.6,292.7L1142.6,292.8L1143.6,293.6L1144.2,322L1144.7,346.1L1146.2,335.1L1147.9,324.2L1149,311.1L1150.1,300.1L1151.2,307.8L1151.9,297.9L1152.3,293.6L1153.4,302.3L1154.5,311.1L1155.2,300.1L1155.6,293.6L1156.5,302.3L1157.4,307.8L1157.8,297.9L1158.2,293.6L1158.9,313.3L1159.5,330.7L1160,308.9L1160.4,293.6L1161.2,293.3L1162,292.7L1162.8,292.7L1163.7,293.9L1164.6,294L1165.4,293.6L1166.8,332.9L1168.1,366.8L1168.7,326.4L1169.2,293.6L1170.1,292.8L1171.1,292.9L1172.1,294.5L1173.1,293.6L1174,324.2L1174.8,350.4L1175.5,324.2L1175.9,304.5L1176.8,319.8L1177.5,332.9L1178.1,311.1L1178.6,294.7L1179.4,295.6L1180.2,294.8L1181,294.5L1181.8,293.6L1182.7,293.6L1183.5,293.6L1184.3,294.8L1185.1,294.7L1186,335.1L1186.9,369.7L1188.2,341.7L1189.5,317.6L1191,304.5L1192.8,294.7L1193.5,293.8L1194.2,293.5L1195,293.1L1195.7,293.2L1196.4,293L1197.2,293.6L1198,346.1L1198.9,390.4L1199.6,365.7L1200,343.9L1200.6,322L1201.1,304.5L1201.7,332.9L1202.2,357L1203.1,346.1L1203.7,337.3L1204.8,319.8L1205.9,304.5L1206.8,296.9L1207.6,293.6L1208.4,293.7L1209.1,293.5L1209.9,294.1L1210.6,293.3L1211.4,292.7L1212.1,293.6L1212.8,293.5L1213.6,294L1214.3,293.9L1215,293.8L1215.7,294L1216.5,295.2L1217.2,295.2L1217.9,294.8L1218.7,294.5L1219.4,293.7L1220.1,293.6L1220.8,313.3L1221.2,330.7L1221.6,308.9L1221.9,293.6L1222.7,324.2L1223.4,348.2L1224.3,355.9L1224.9,362.5L1225.8,346.1L1226.7,332.9L1227.8,322L1228.9,313.3L1230.8,302.3L1232.6,293.6L1233.5,326.4L1234.3,355.9L1235.2,322L1236.1,293.6L1237.4,317.6L1238.7,336.2L1239.4,313.3L1239.8,294.7L1240.5,294.2L1241.2,293.9L1241.9,293.1L1242.6,293.1L1243.5,294.2L1244.4,293.6L1245.3,293.6L1245.7,311.1L1246.1,325.3L1246.8,312.2L1247.4,302.3L1248.3,304.5L1249.2,306.7L1250.1,299L1250.7,293.6L1251.5,294.5L1252.3,293.5L1253.1,294.4L1253.8,294.1L1254.6,292.5L1255.4,292.7L1256.2,292.7L1256.9,294L1257.7,293.3L1258.4,294.4L1259.1,293.5L1259.8,293.1L1260.6,293.6L1261.3,294.2L1262,294.5L1262.8,293.6L1263.5,293.2L1264.2,293.7L1264.9,293.6L1265.2,313.3L1265.4,330.7L1266.3,328.6L1267.1,326.4L1268,311.1L1268.9,299L1269.8,293.6L1271.1,293.6L1271.9,294.7L1272.4,319.8L1272.6,341.7L1273.2,501.3L1273.7,692L1282.4,692L1282.7,479.4L1282.9,292.5L1283.9,293.9L1284.8,292.9L1285.8,294.1L1286.8,293.6L1287.5,341.7L1287.9,380.6L1289,361.4L1290.1,343.9L1291.2,330.7L1292.3,319.8L1292.9,306.7L1293.4,312.2L1293.8,315.4L1294.5,301.2L1295.1,328.6L1295.6,350.9L1296.2,330.7L1296.6,313.3L1297.7,302.3L1298.8,293.6L1299.6,293.2L1300.3,293.3L1301,292.9L1301.8,292.7L1302.5,294L1303.2,292.9L1303.9,293L1304.7,294L1305.4,294.1L1306.1,293.9L1306.9,295.2L1307.6,294.7L1308.9,343.9L1310.2,387.6L1311.3,380L1312.4,373.4L1313.3,332.9L1314.1,293.6L1314.8,306.7L1315.2,317.6L1315.9,304.5L1316.3,293.6L1317,304.5L1317.4,312.2L1318.1,302.3L1318.5,293.6L1319.4,315.4L1320,334L1320.7,319.8L1321.4,307.8L1321.8,311.1L1322.2,313.3L1322.9,302.3L1323.5,293.6L1324.3,293.2L1325.1,293.9L1326,292.8L1326.8,293.2L1327.6,292.7L1328.4,292.7L1329.2,293L1330,294.6L1330.8,294.6L1331.6,294L1332.5,293.9L1333.3,294.9L1334.1,293.6L1334.9,293.6L1335.6,326.4L1336,353.7L1337.1,347.1L1338.2,341.7L1340.4,319.8L1342.6,301.2L1344.8,298.4L1346.9,296.9L1347.6,317.6L1348,336.2L1348.7,313.3L1349.1,293.6L1349.9,293.7L1350.6,294.4L1351.3,293.9L1352,292.8L1352.8,294.3L1353.5,292.9L1354.2,292.8L1355,293L1355.7,293.9L1356.4,293.2L1357.1,293.1L1357.9,293.1L1358.1,457.6L1358.5,692L1364.7,692L1364.9,457.6L1365.1,292.5L1365.5,315.4L1366.4,330.7L1368.2,322L1371,311.1L1374.3,303.4L1375.4,302.3L1375.8,330.7L1376,355.9L1376.9,337.3L1378.7,315.4L1380.8,303.4L1383,297.9L1385.2,293.6L1386.1,293.2L1387,293.2L1387.8,293.6L1388.3,332.9L1388.5,365.7L1389.6,352.6L1391.8,330.7L1394,327.5L1396.1,324.2L1397,313.3L1397.9,299L1398.1,457.6L1398.6,692L1427.6,692L1427.8,330.3L1427.9,330.3L1428.2,692L1446.6,692L1446.8,311.5L1446.9,311.5L1447.2,692L1476.4,692L1476.6,307.8L1476.7,307.8L1477,692L1506.6,692L1506.8,297.9L1506.9,297.9L1507.2,692L1537.2,692L1537.4,294.7L1537.5,294.7L1537.8,692L1565.8,692L1566.1,292.5L1566.2,292.5L1566.4,692L1596,692L1596.2,290.3L1596.3,290.3L1596.6,692L1626.4,692L1626.6,290.3L1626.7,290.3L1627,692L1657,692L1657.3,292L1657.4,292L1657.6,692L1687.4,692L1687.6,291L1687.7,291L1688,692L1716.9,692L1717.2,292L1717.3,292L1717.5,692L1764.9,692L1765.3,291.4L1766,291.4L1766.4,479.4L1766.9,692L1767.5,692L1768.2,479.4L1768.8,291.4L1769.3,332.9L1769.7,370.1L1770.4,341.7L1771,315.4L1771.9,302.3L1772.5,292.5L1773.6,293.6L1774.5,324.2L1775.4,349.3L1775.8,319.8L1776.3,293.6L1777.1,322L1778,347.1L1778.7,317.6L1779.1,293.6L1780.2,292.9L1781.3,293.6L1781.9,306.7L1782.4,317.6L1783,304.5L1783.5,292.5L1784.6,292.9L1785.7,292.5L1786.5,335.1L1787.4,373.4L1788.3,352.6L1788.9,337.3L1790,336.2L1791.1,335.1L1792.2,313.3L1793.3,293.6L1794.1,293.8L1794.9,292.9L1796.2,292.5L1796.8,479.4L1797.3,692L1797.9,692L1798.3,479.4L1798.8,292.5L1799.4,311.1L1799.9,326.4L1800.8,308.9L1801.6,293.6L1802.1,304.5L1802.5,313.3L1803.4,303.4L1804.3,295.8L1805.1,294.4L1806,293.1L1806.8,292.8L1807.5,291.4L1808.2,291.9L1809,292.4L1809.7,293.6L1810.4,292.7L1811.3,293L1812.1,293.1L1813,292.5L1813.7,330.7L1814.1,363.1L1814.7,326.4L1815.2,293.6L1816.3,292.9L1817.4,293.6L1818.5,326.4L1819.6,354.1L1820.4,322L1821.1,293.6L1822,292.9L1822.8,292.5L1823.9,300.1L1825,307.8L1825.7,324.2L1826.1,337.3L1826.8,324.2L1827.2,313.3L1827.9,319.8L1828.3,324.2"/>
</g>
<g clip-path="url(#c01)" class="ln">
<path stroke="#ff7f0e" stroke-width="2.4" d="M1108,692H1828"/>
</g>
<text class="ct" x="478" y="820" letter-spacing="0.13">Disk buffers</text>
<path class="grid" d="M150,1270H870M150,1228H870M150,1186H870M150,1144H870M150,1102H870M150,1060H870M150,1018H870M150,976H870M150,934H870M150,892H870"/>
<path class="grid" d="M208.4,892V1312M298.5,892V1312M388.6,892V1312M478.7,892V1312M568.8,892V1312M658.9,892V1312M749,892V1312M839.1,892V1312"/>
<path class="zero" d="M150,1312H870"/>
<path class="axis" d="M150,892V1312"/>
<text class="yl" x="129.7" y="1320.2">0 Mb</text>
<text class="yl" x="129.7" y="1278.2">1 Mb</text>
<text class="yl" x="129.7" y="1236.2">2 Mb</text>
<text class="yl" x="129.7" y="1194.2">3 Mb</text>
<text class="yl" x="129.7" y="1152.2">4 Mb</text>
<text class="yl" x="129.7" y="1110.2">5 Mb</text>
<text class="yl" x="129.7" y="1068.2">6 Mb</text>
<text class="yl" x="129.7" y="1026.2">7 Mb</text>
<text class="yl" x="129.7" y="984.2">8 Mb</text>
<text class="yl" x="129.7" y="942.2">9 Mb</text>
<text class="yl" x="129.7" y="900.2">10 Mb</text>
<text class="xl" x="208.4" y="1349.8">03 PM</text>
<text class="xl" x="298.5" y="1349.8">06 PM</text>
<text class="xl" x="388.6" y="1349.8">09 PM</text>
<text class="xl" x="478.7" y="1349.8">Tue 14</text>
<text class="xl" x="568.8" y="1349.8">03 AM</text>
<text class="xl" x="658.9" y="1349.8">06 AM</text>
<text class="xl" x="749" y="1349.8">09 AM</text>
<text class="xl" x="839.1" y="1349.8">12 PM</text>
<circle cx="608" cy="866.6" r="8.25" fill="#2ca02c"/>
<text class="lg" x="624" y="875.5" letter-spacing="-0.08">JVM</text>
<circle cx="728" cy="866.6" r="8.25" fill="#ff7f0e"/>
<text class="lg" x="744" y="875.5" letter-spacing="-0.08">Queries</text>
<g clip-path="url(#c10)" class="ln">
<path stroke="#ff7f0e" stroke-width="2.4" d="M150,1312H870"/>
</g>
<text class="ct" x="1436" y="820" letter-spacing="0.1">Total buffers number</text>
<path class="grid" d="M1108,1273.8H1828M1108,1235.6H1828M1108,1197.5H1828M1108,1159.3H1828M1108,1121.1H1828M1108,1082.9H1828M1108,1044.7H1828M1108,1006.5H1828M1108,968.4H1828M1108,930.2H1828M1108,892H1828"/>
<path class="grid" d="M1166.4,892V1312M1256.5,892V1312M1346.6,892V1312M1436.7,892V1312M1526.8,892V1312M1616.9,892V1312M1707,892V1312M1797.1,892V1312"/>
<path class="zero" d="M1108,1312H1828"/>
<path class="axis" d="M1108,892V1312"/>
<text class="yl" x="1087.7" y="1320.2">0</text>
<text class="yl" x="1087.7" y="1282">200</text>
<text class="yl" x="1087.7" y="1243.8">400</text>
<text class="yl" x="1087.7" y="1205.7">600</text>
<text class="yl" x="1087.7" y="1167.5">800</text>
<text class="yl" x="1087.7" y="1129.3">1000</text>
<text class="yl" x="1087.7" y="1091.1">1200</text>
<text class="yl" x="1087.7" y="1052.9">1400</text>
<text class="yl" x="1087.7" y="1014.7">1600</text>
<text class="yl" x="1087.7" y="976.6">1800</text>
<text class="yl" x="1087.7" y="938.4">2000</text>
<text class="yl" x="1087.7" y="900.2">2200</text>
<text class="xl" x="1166.4" y="1349.8">03 PM</text>
<text class="xl" x="1256.5" y="1349.8">06 PM</text>
<text class="xl" x="1346.6" y="1349.8">09 PM</text>
<text class="xl" x="1436.7" y="1349.8">Tue 14</text>
<text class="xl" x="1526.8" y="1349.8">03 AM</text>
<text class="xl" x="1616.9" y="1349.8">06 AM</text>
<text class="xl" x="1707" y="1349.8">09 AM</text>
<text class="xl" x="1797.1" y="1349.8">12 PM</text>
<circle cx="1715.8" cy="866.6" r="8.25" fill="#ff7f0e"/>
<text class="lg" x="1731.8" y="875.5" letter-spacing="-0.08">Queries</text>
<g clip-path="url(#c11)" class="ln">
<path stroke="#ff7f0e" d="M1108,1312L1149.7,1312L1150.1,1256.1L1150.5,1256.1L1150.8,1312L1152.4,1312L1152.8,1256.1L1153.1,1256.1L1153.5,1312L1158.9,1312L1159.4,1302.5L1159.8,1302.5L1160.3,1312L1200.8,1312L1201.4,1301.5L1201.9,1301.5L1202.4,1312L1269.2,1312L1269.6,1310.1L1270,1310.1L1270.4,1312L1272.7,1312L1273.1,1261.8L1273.6,1261.8L1273.9,1312L1283.7,1312L1284.1,1265.2L1284.5,1265.2L1284.9,1312L1285.7,1312L1286.2,1309.1L1294.1,1309.1L1294.7,1261.8L1295.2,1261.8L1295.5,1279.1L1296,1262.7L1296.5,1309.1L1311.9,1309.1L1312.3,1261L1312.9,1261L1313.4,1309.1L1323.6,1309.1L1324,1261.8L1324.6,1261.8L1325.1,1309.1L1358.6,1309.1L1359.3,1312L1365.1,1312L1365.6,1307.4L1366.5,1307.4L1367,1309.1L1397.8,1309.1L1398.8,1312L1427.5,1312L1427.9,1307.4L1428.4,1307.4L1428.9,1312L1445.9,1312L1446.4,1307.4L1446.9,1307.4L1447.3,1312L1476.6,1312L1477.1,1307.4L1477.6,1307.4L1478,1312L1507,1312L1507.4,1307.4L1507.9,1307.4L1508.4,1312L1537.4,1312L1537.8,1308.8L1538.3,1308.8L1538.8,1312L1657.4,1312L1657.7,1019L1658,1019L1658.3,1312L1771.1,1312L1771.3,932.1L1771.6,931.1L1771.8,1312L1772,930L1772.3,927.9L1772.5,1312L1772.7,927.9L1773,931.1L1773.2,1312L1773.4,932.1L1773.7,927.9L1773.9,1312L1774.1,930L1774.4,931.1L1774.6,1312L1774.8,927.9L1775.1,927.9L1775.3,1312L1775.5,932.1L1775.8,931.1L1776,1312L1776.2,930L1776.5,927.9L1776.7,1312L1807,1312L1807.5,1309.7L1808.1,1309.7L1808.6,1312L1819.1,1312L1819.5,1263.5L1819.9,1263.5L1820.3,1312L1828,1312"/>
<path stroke="#ff7f0e" stroke-width="2.4" d="M1108,1312H1285"/>
<path stroke="#ff7f0e" stroke-width="2.4" d="M1400,1312H1828"/>
</g>
<text class="ct" x="478" y="1440" letter-spacing="0.21">Query statistic per hour</text>
<path class="grid" d="M150,1890H870M150,1848H870M150,1806H870M150,1764H870M150,1722H870M150,1680H870M150,1638H870M150,1596H870M150,1554H870M150,1512H870"/>
<path class="grid" d="M212.1,1512V1932M305.2,1512V1932M398.3,1512V1932M491.4,1512V1932M584.5,1512V1932M677.6,1512V1932M770.7,1512V1932M863.8,1512V1932"/>
<path class="zero" d="M150,1932H870"/>
<path class="axis" d="M150,1512V1932"/>
<text class="yl" x="129.7" y="1940.2">0</text>
<text class="yl" x="129.7" y="1898.2">1</text>
<text class="yl" x="129.7" y="1856.2">2</text>
<text class="yl" x="129.7" y="1814.2">3</text>
<text class="yl" x="129.7" y="1772.2">4</text>
<text class="yl" x="129.7" y="1730.2">5</text>
<text class="yl" x="129.7" y="1688.2">6</text>
<text class="yl" x="129.7" y="1646.2">7</text>
<text class="yl" x="129.7" y="1604.2">8</text>
<text class="yl" x="129.7" y="1562.2">9</text>
<text class="yl" x="129.7" y="1520.2">10</text>
<text class="xl" x="212.1" y="1969.8">15:00</text>
<text class="xl" x="305.2" y="1969.8">18:00</text>
<text class="xl" x="398.3" y="1969.8">21:00</text>
<text class="xl" x="491.4" y="1969.8">00:00</text>
<text class="xl" x="584.5" y="1969.8">03:00</text>
<text class="xl" x="677.6" y="1969.8">06:00</text>
<text class="xl" x="770.7" y="1969.8">09:00</text>
<text class="xl" x="863.8" y="1969.8">12:00</text>
<circle cx="338.2" cy="1486.6" r="8.25" fill="#1f77b4"/>
<text class="lg" x="354.2" y="1495.5" letter-spacing="-0.15">Quick (&lt;10s)</text>
<circle cx="527.5" cy="1486.6" r="8.25" fill="#aec7e8"/>
<text class="lg" x="543.5" y="1495.5" letter-spacing="-0.15">Normal (&gt;10s)</text>
<circle cx="718" cy="1486.6" r="8.25" fill="#ff7f0e"/>
<text class="lg" x="734" y="1495.5" letter-spacing="-0.15">Slow (&gt;60s)</text>
<g clip-path="url(#c20)">
<path fill="#1f77b4" d="M150,1806L181,1596L212.1,1890L243.1,1848L274.1,1722L305.1,1848L336.2,1722L367.2,1806L398.2,1932L429.3,1932L460.3,1806L491.3,1890L522.4,1932L553.4,1932L584.4,1932L615.5,1932L646.5,1932L677.5,1890L708.5,1890L739.6,1890L770.6,1890L801.6,1890L832.7,1722L863.7,1680L870.3,1877.4L870.3,1932L863.7,1932L832.7,1932L801.6,1932L770.6,1932L739.6,1932L708.5,1932L677.5,1932L646.5,1932L615.5,1932L584.4,1932L553.4,1932L522.4,1932L491.3,1932L460.3,1932L429.3,1932L398.2,1932L367.2,1932L336.2,1932L305.1,1932L274.1,1932L243.1,1932L212.1,1932L181,1932L150,1932Z"/>
<path fill="#aec7e8" d="M150,1638L181,1554L212.1,1848L243.1,1764L274.1,1638L305.1,1848L336.2,1722L367.2,1806L398.2,1890L429.3,1890L460.3,1722L491.3,1890L522.4,1932L553.4,1932L584.4,1932L615.5,1932L646.5,1932L677.5,1890L708.5,1890L739.6,1890L770.6,1890L801.6,1890L832.7,1638L863.7,1554L870.3,1785L870.3,1877.4L863.7,1680L832.7,1722L801.6,1890L770.6,1890L739.6,1890L708.5,1890L677.5,1890L646.5,1932L615.5,1932L584.4,1932L553.4,1932L522.4,1932L491.3,1890L460.3,1806L429.3,1932L398.2,1932L367.2,1806L336.2,1722L305.1,1848L274.1,1722L243.1,1848L212.1,1890L181,1596L150,1806Z"/>
<path fill="#ff7f0e" d="M150,1638L181,1512L212.1,1848L243.1,1596L274.1,1554L305.1,1848L336.2,1680L367.2,1764L398.2,1848L429.3,1848L460.3,1722L491.3,1848L522.4,1932L553.4,1932L584.4,1932L615.5,1932L646.5,1932L677.5,1890L708.5,1890L739.6,1890L770.6,1890L801.6,1890L832.7,1596L863.7,1512L870.3,1755.6L870.3,1785L863.7,1554L832.7,1638L801.6,1890L770.6,1890L739.6,1890L708.5,1890L677.5,1890L646.5,1932L615.5,1932L584.4,1932L553.4,1932L522.4,1932L491.3,1890L460.3,1722L429.3,1890L398.2,1890L367.2,1806L336.2,1722L305.1,1848L274.1,1638L243.1,1764L212.1,1848L181,1554L150,1638Z"/>
</g>
<text class="ct" x="1436" y="1440" letter-spacing="0.37">Job statistic per hour</text>
<path class="grid" d="M1108,1879.5H1828M1108,1827H1828M1108,1774.5H1828M1108,1722H1828M1108,1669.5H1828M1108,1617H1828M1108,1564.5H1828M1108,1512H1828"/>
<path class="grid" d="M1170.1,1512V1932M1263.2,1512V1932M1356.3,1512V1932M1449.4,1512V1932M1542.5,1512V1932M1635.6,1512V1932M1728.7,1512V1932M1821.8,1512V1932"/>
<path class="zero" d="M1108,1932H1828"/>
<path class="axis" d="M1108,1512V1932"/>
<text class="yl" x="1087.7" y="1940.2">0</text>
<text class="yl" x="1087.7" y="1887.7">1</text>
<text class="yl" x="1087.7" y="1835.2">2</text>
<text class="yl" x="1087.7" y="1782.7">3</text>
<text class="yl" x="1087.7" y="1730.2">4</text>
<text class="yl" x="1087.7" y="1677.7">5</text>
<text class="yl" x="1087.7" y="1625.2">6</text>
<text class="yl" x="1087.7" y="1572.7">7</text>
<text class="yl" x="1087.7" y="1520.2">8</text>
<text class="xl" x="1170.1" y="1969.8">15:00</text>
<text class="xl" x="1263.2" y="1969.8">18:00</text>
<text class="xl" x="1356.3" y="1969.8">21:00</text>
<text class="xl" x="1449.4" y="1969.8">00:00</text>
<text class="xl" x="1542.5" y="1969.8">03:00</text>
<text class="xl" x="1635.6" y="1969.8">06:00</text>
<text class="xl" x="1728.7" y="1969.8">09:00</text>
<text class="xl" x="1821.8" y="1969.8">12:00</text>
<circle cx="1296" cy="1486.6" r="8.25" fill="#1f77b4"/>
<text class="lg" x="1312" y="1495.5" letter-spacing="-0.15">Quick (&lt;10s)</text>
<circle cx="1485.5" cy="1486.6" r="8.25" fill="#aec7e8"/>
<text class="lg" x="1501.5" y="1495.5" letter-spacing="-0.15">Normal (&gt;10s)</text>
<circle cx="1676" cy="1486.6" r="8.25" fill="#ff7f0e"/>
<text class="lg" x="1692" y="1495.5" letter-spacing="-0.15">Slow (&gt;60s)</text>
<g clip-path="url(#c21)">
<path fill="#1f77b4" d="M1108,1879.5L1139,1722L1170.1,1879.5L1201.1,1879.5L1232.1,1774.5L1263.2,1774.5L1294.2,1827L1325.2,1722L1356.2,1669.5L1387.3,1932L1418.3,1879.5L1449.3,1827L1480.4,1932L1511.4,1932L1542.4,1932L1573.5,1932L1604.5,1932L1635.5,1932L1666.5,1932L1697.6,1932L1728.6,1879.5L1759.6,1827L1790.7,1827L1821.7,1722L1828.3,1827L1828.3,1932L1821.7,1932L1790.7,1932L1759.6,1932L1728.6,1932L1697.6,1932L1666.5,1932L1635.5,1932L1604.5,1932L1573.5,1932L1542.4,1932L1511.4,1932L1480.4,1932L1449.3,1932L1418.3,1932L1387.3,1932L1356.2,1932L1325.2,1932L1294.2,1932L1263.2,1932L1232.1,1932L1201.1,1932L1170.1,1932L1139,1932L1108,1932Z"/>
<path fill="#aec7e8" d="M1108,1827L1139,1722L1170.1,1879.5L1201.1,1879.5L1232.1,1722L1263.2,1722L1294.2,1827L1325.2,1564.5L1356.2,1564.5L1387.3,1932L1418.3,1879.5L1449.3,1827L1480.4,1932L1511.4,1932L1542.4,1932L1573.5,1932L1604.5,1932L1635.5,1932L1666.5,1932L1697.6,1932L1728.6,1879.5L1759.6,1774.5L1790.7,1827L1821.7,1617L1828.3,1774.5L1828.3,1827L1821.7,1722L1790.7,1827L1759.6,1827L1728.6,1879.5L1697.6,1932L1666.5,1932L1635.5,1932L1604.5,1932L1573.5,1932L1542.4,1932L1511.4,1932L1480.4,1932L1449.3,1827L1418.3,1879.5L1387.3,1932L1356.2,1669.5L1325.2,1722L1294.2,1827L1263.2,1774.5L1232.1,1774.5L1201.1,1879.5L1170.1,1879.5L1139,1722L1108,1879.5Z"/>
<path fill="#ff7f0e" d="M1108,1827L1139,1722L1170.1,1827L1201.1,1879.5L1232.1,1617L1263.2,1669.5L1294.2,1774.5L1325.2,1512L1356.2,1512L1387.3,1879.5L1418.3,1879.5L1449.3,1827L1480.4,1932L1511.4,1932L1542.4,1879.5L1573.5,1932L1604.5,1932L1635.5,1932L1666.5,1932L1697.6,1932L1728.6,1827L1759.6,1774.5L1790.7,1774.5L1821.7,1617L1828.3,1774.5L1828.3,1774.5L1821.7,1617L1790.7,1827L1759.6,1774.5L1728.6,1879.5L1697.6,1932L1666.5,1932L1635.5,1932L1604.5,1932L1573.5,1932L1542.4,1932L1511.4,1932L1480.4,1932L1449.3,1827L1418.3,1879.5L1387.3,1932L1356.2,1564.5L1325.2,1564.5L1294.2,1827L1263.2,1722L1232.1,1722L1201.1,1879.5L1170.1,1879.5L1139,1722L1108,1827Z"/>
</g>
</svg>
</body>
</html>
